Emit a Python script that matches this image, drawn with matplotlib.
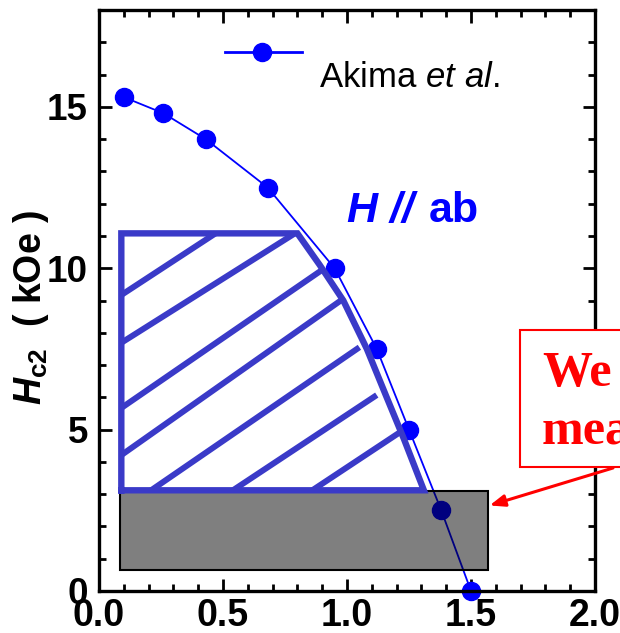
import matplotlib
matplotlib.use("Agg")
import matplotlib.pyplot as plt
from matplotlib.patches import Rectangle

# ---- data ----
akima_T = [0.10, 0.26, 0.43, 0.68, 0.95, 1.12, 1.25, 1.38, 1.50]
akima_H = [15.3, 14.8, 14.0, 12.5, 10.0, 7.5, 5.0, 2.5, 0.0]

# measured-range box (T range, H range)
box_T = [0.085, 1.57]
box_H = [0.65, 3.1]

# hatched region boundary
region_T = [0.09, 0.09, 0.80, 0.89, 0.985, 1.08, 1.16, 1.23, 1.31, 0.09]
region_H = [3.12, 11.08, 11.08, 10.1, 9.0, 7.5, 6.0, 4.7, 3.12, 3.12]

# hatch line segments (T0, H0, T1, H1)
hatch_T0 = [0.09, 0.09, 0.09, 0.09, 0.21, 0.54, 0.86]
hatch_H0 = [9.17, 7.69, 5.67, 4.21, 3.12, 3.12, 3.12]
hatch_T1 = [0.47, 0.79, 0.90, 0.975, 1.05, 1.12, 1.21]
hatch_H1 = [11.08, 11.08, 9.95, 9.0, 7.55, 6.07, 4.9]

xticks = [0.0, 0.5, 1.0, 1.5, 2.0]
xticklabels = ["0.0", "0.5", "1.0", "1.5", "2.0"]
yticks = [0, 5, 10, 15]
yticklabels = ["0", "5", "10", "15"]

plt.rcParams['font.family'] = ['Liberation Sans', 'DejaVu Sans']
plt.rcParams['mathtext.fontset'] = 'custom'
plt.rcParams['mathtext.rm'] = 'Liberation Sans:bold'
plt.rcParams['mathtext.it'] = 'Liberation Sans:bold:italic'
plt.rcParams['mathtext.bf'] = 'Liberation Sans:bold'
plt.rcParams['mathtext.sf'] = 'Liberation Sans:italic'

W, H = 620, 633
fig = plt.figure(figsize=(W / 100, H / 100), dpi=100)
ax = fig.add_axes([99 / W, (H - 591) / H, 496 / W, 581 / H])

hatch_color = '#3a3ac8'
blue = '#0000ff'

# Akima data
ax.plot(akima_T, akima_H, '-', color=blue, lw=1.3, marker='o', ms=13,
        mec=blue, mfc=blue, zorder=2, clip_on=False)

# gray semi-transparent box
ax.add_patch(Rectangle((box_T[0], box_H[0]), box_T[1] - box_T[0], box_H[1] - box_H[0],
                       facecolor=(0, 0, 0, 0.5), edgecolor='black', lw=1.5, zorder=3))

# hatched region
ax.plot(region_T, region_H, '-', color=hatch_color, lw=4.6, solid_joinstyle='miter',
        zorder=4)
for t0, h0, t1, h1 in zip(hatch_T0, hatch_H0, hatch_T1, hatch_H1):
    ax.plot([t0, t1], [h0, h1], '-', color=hatch_color, lw=4.3,
            solid_capstyle='butt', zorder=4)

ax.set_xlim(0, 2.0)
ax.set_ylim(0, 18)
ax.set_xticks(xticks)
ax.set_xticklabels(xticklabels)
ax.set_yticks(yticks)
ax.set_yticklabels(yticklabels)
ax.set_xticks([i / 10 for i in range(0, 21)], minor=True)
ax.set_yticks(list(range(0, 19)), minor=True)
ax.tick_params(which='both', direction='in', top=True, right=True, width=2, color='black')
ax.tick_params(which='major', length=9)
ax.tick_params(which='minor', length=5)
ax.tick_params(axis='x', which='major', pad=5, labelsize=27)
ax.tick_params(axis='y', which='major', pad=8, labelsize=26.5)
for lab in ax.get_xticklabels() + ax.get_yticklabels():
    lab.set_fontweight('bold')
for s in ax.spines.values():
    s.set_linewidth(2.4)

ax.set_ylabel(r'$H_{\mathrm{c2}}$  ( kOe )', fontsize=27, fontweight='bold')
ax.yaxis.set_label_coords((51 - 99) / 496, (591 - 308) / 581)

# legend drawn manually
ax.plot([0.254, 0.409], [0.928, 0.928], '-', color=blue, lw=2, transform=ax.transAxes,
        clip_on=False)
ax.plot([0.329], [0.928], 'o', color=blue, ms=13, transform=ax.transAxes, clip_on=False)
ax.text((319 - 99) / 496, (591 - 87) / 581, r'Akima $\mathsf{et\ al}$.',
        transform=ax.transAxes, fontsize=25, va='baseline', ha='left')

# H // ab label
ax.text(1.27, 11.43, 'H //', color=blue, fontsize=31, fontweight='bold', style='italic',
        ha='right', va='baseline')
ax.text(1.33, 11.43, 'ab', color=blue, fontsize=31, fontweight='bold', ha='left',
        va='baseline')

# red annotation box (cut by figure edge)
fig.patches.append(Rectangle((520 / W, (H - 467) / H), 0.5, 137 / H,
                             transform=fig.transFigure, facecolor='white',
                             edgecolor='red', lw=1.5, zorder=5))
fig.text(542 / W, (H - 374) / H, 'We', color='red', fontsize=36, fontweight='bold',
         family='Liberation Serif', va='center', ha='left', zorder=6)
fig.text(542 / W, (H - 432) / H, 'measured', color='red', fontsize=36, fontweight='bold',
         family='Liberation Serif', va='center', ha='left', zorder=6)
ax.annotate('', xy=(1.575, 2.65), xycoords='data', xytext=(613, H - 468),
            textcoords='figure pixels',
            arrowprops=dict(arrowstyle='-|>,head_length=0.9,head_width=0.35',
                            color='red', lw=2.2, shrinkA=0, shrinkB=0),
            annotation_clip=False, zorder=6)

fig.savefig('out.png', dpi=100)
